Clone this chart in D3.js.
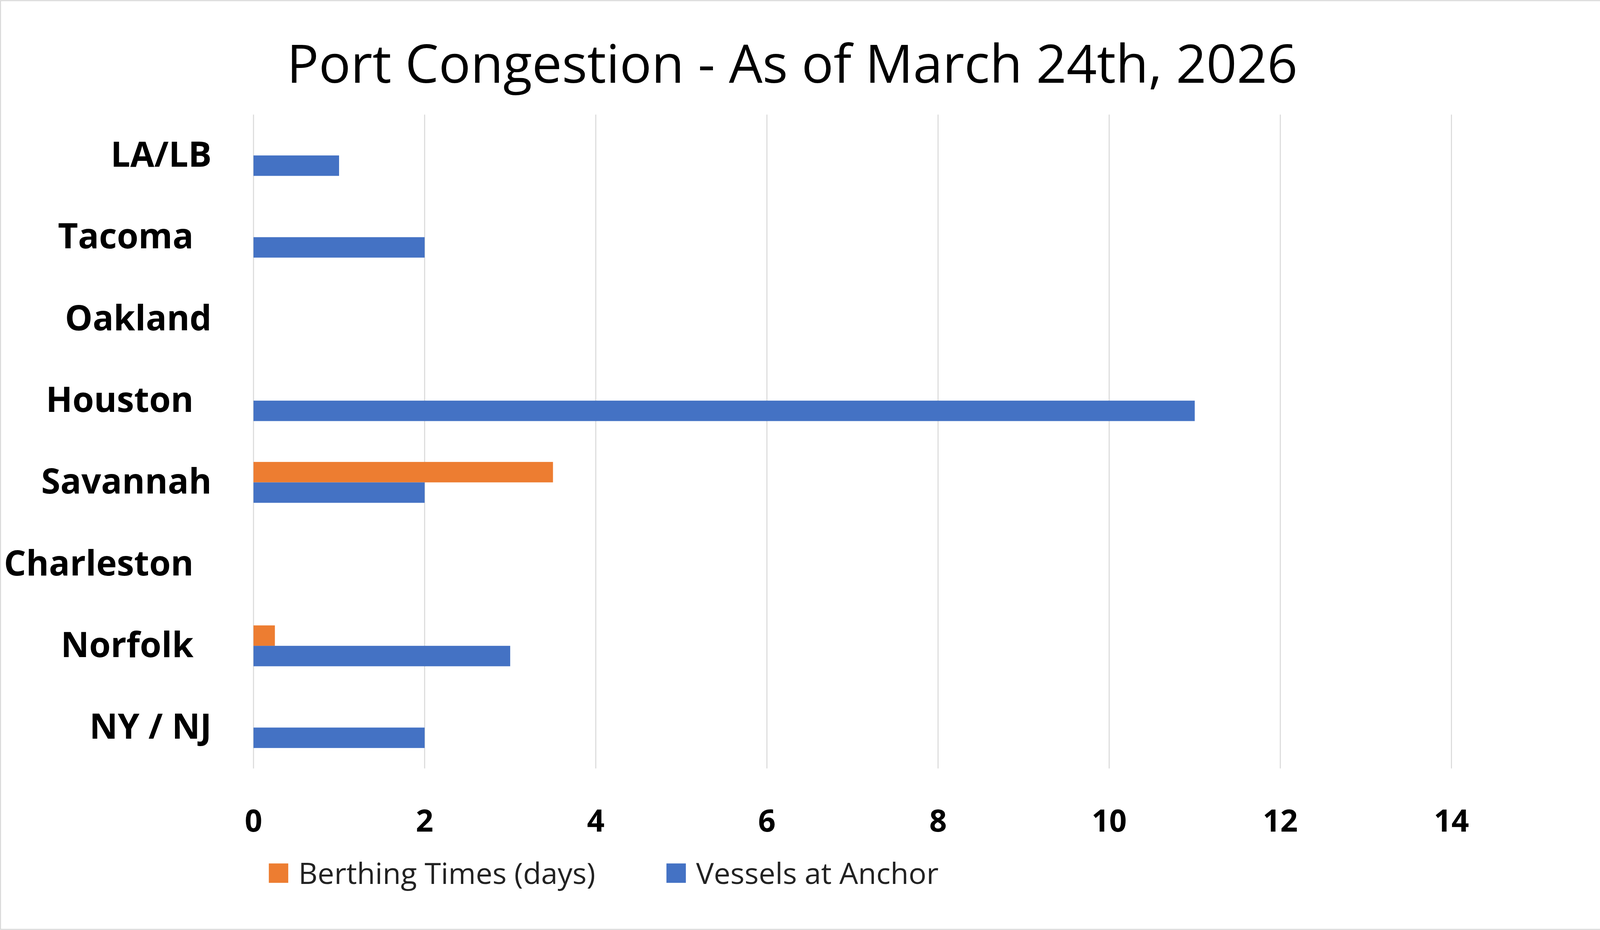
<!DOCTYPE html>
<html><head><meta charset="utf-8">
<script src="https://cdn.jsdelivr.net/npm/d3@7"></script>
<style>body{margin:0;background:#fff}</style></head>
<body><svg id="c"></svg>
<script>
const title = "Port Congestion - As of March 24th, 2026";
const categories = ["LA/LB","Tacoma ","Oakland","Houston ","Savannah","Charleston ","Norfolk ","NY / NJ"];
const berthing = [0,0,0,0,3.5,0,0.25,0];
const vessels = [1,2,0,11,2,0,3,2];
const ticks = [0,2,4,6,8,10,12,14];
const seriesNames = ["Berthing Times (days)","Vessels at Anchor"];
const colors = ["#ED7D31","#4472C4"];

const W=1568,H=910;
const svg=d3.select("#c").attr("width",4103).attr("height",2382).attr("viewBox",`0 0 ${W} ${H}`);
svg.append("rect").attr("x",0.5).attr("y",0.5).attr("width",W-1).attr("height",H-1).attr("fill","#fff").attr("stroke","#d9d9d9");
const font="'Open Sans', 'Noto Sans', sans-serif";
svg.append("text").attr("x",775).attr("y",81).attr("text-anchor","middle").attr("font-family",font).attr("font-size",52).attr("fill","#000").text(title);

const x=d3.scaleLinear().domain([0,14]).range([248,1420]);
const y=d3.scaleBand().domain(categories).range([112,752]);
svg.append("g").selectAll("line").data(ticks).join("line")
 .attr("x1",d=>x(d)).attr("x2",d=>x(d)).attr("y1",112).attr("y2",752)
 .attr("stroke","#d9d9d9").attr("stroke-width",1);
const bh=20;
svg.append("g").selectAll("rect").data(categories).join("rect")
 .attr("x",x(0)).attr("y",d=>y(d)+y.bandwidth()/2-bh)
 .attr("width",(d,i)=>x(berthing[i])-x(0)).attr("height",bh).attr("fill",colors[0]);
svg.append("g").selectAll("rect").data(categories).join("rect")
 .attr("x",x(0)).attr("y",d=>y(d)+y.bandwidth()/2)
 .attr("width",(d,i)=>x(vessels[i])-x(0)).attr("height",bh).attr("fill",colors[1]);
svg.append("g").selectAll("text").data(categories).join("text")
 .attr("x",207).attr("y",d=>y(d)+y.bandwidth()/2+11).attr("text-anchor","end")
 .attr("font-family",font).attr("font-weight","bold").attr("font-size",34)
 .style("white-space","pre").attr("xml:space","preserve").text(d=>d.replace(/ $/,"\u00a0\u00a0"));
svg.append("g").selectAll("text").data(ticks).join("text")
 .attr("x",d=>x(d)).attr("y",814).attr("text-anchor","middle")
 .attr("font-family",font).attr("font-weight","bold").attr("font-size",30).text(d=>d);
const lx=[263,652];
seriesNames.forEach((n,i)=>{
 svg.append("rect").attr("x",lx[i]).attr("y",845).attr("width",19).attr("height",19).attr("fill",colors[i]);
 svg.append("text").attr("x",lx[i]+29).attr("y",865).attr("font-family",font).attr("font-size",29).attr("fill","#222").text(n);
});
</script></body></html>
